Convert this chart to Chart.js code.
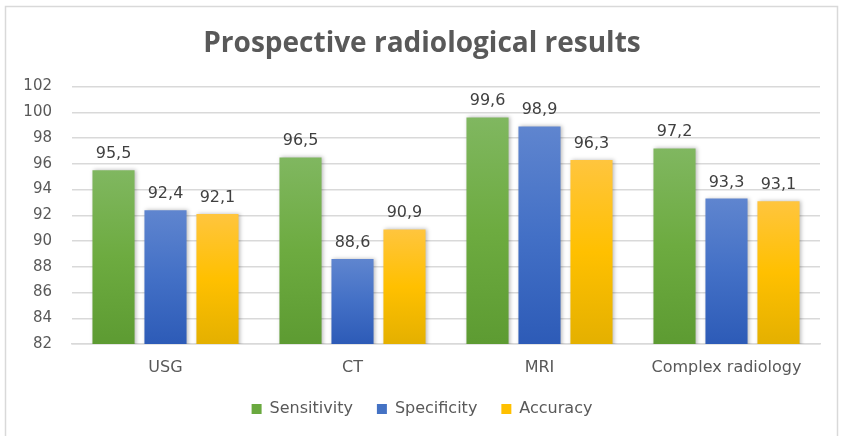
<!DOCTYPE html>
<html>
<head>
<meta charset="utf-8">
<script src="https://cdn.jsdelivr.net/npm/chart.js@4"></script>
<style>
html,body{margin:0;padding:0;background:#fff;}
#wrap{width:844px;height:436px;position:relative;}
</style>
</head>
<body>
<div id="wrap"><canvas id="c" width="844" height="436"></canvas></div>
<script>
const categories = ['USG', 'CT', 'MRI', 'Complex radiology'];
const sensitivity = [95.5, 96.5, 99.6, 97.2];
const specificity = [92.4, 88.6, 98.9, 93.3];
const accuracy = [92.1, 90.9, 96.3, 93.1];
const yTicks = [82, 84, 86, 88, 90, 92, 94, 96, 98, 100, 102];

const palettes = {
  green: ['#80b760', '#6dab40', '#5d9b32'],
  blue: ['#5f85cf', '#4370c6', '#2d5bb7'],
  yellow: ['#ffc53e', '#ffc000', '#e4b000']
};

function grad(p) {
  return function(ctx) {
    const chart = ctx.chart;
    if (!chart.chartArea || ctx.parsed === undefined || ctx.parsed === null) return p[1];
    const ys = chart.scales.y;
    const top = ys.getPixelForValue(ctx.parsed.y);
    const bot = ys.getPixelForValue(ys.min);
    if (!isFinite(top) || !isFinite(bot) || bot - top < 1) return p[1];
    const g = chart.ctx.createLinearGradient(0, top, 0, bot);
    g.addColorStop(0, p[0]);
    g.addColorStop(0.5, p[1]);
    g.addColorStop(1, p[2]);
    return g;
  };
}

const frame = {
  id: 'frame',
  beforeInit(chart) {
    const lg = chart.legend;
    if (lg) {
      const origFit = lg.fit;
      lg.fit = function() { origFit.call(this); this.height = 59; };
    }
  },
  beforeDraw(chart) {
    const c = chart.ctx;
    c.save();
    c.fillStyle = '#ffffff';
    c.fillRect(0, 0, chart.width, chart.height);
    c.strokeStyle = '#d9d9d9';
    c.lineWidth = 1.5;
    c.strokeRect(5.5, 6.5, 832, 440);
    c.restore();
  }
};

const shadow = {
  id: 'shadow',
  beforeDatasetDraw(chart) {
    const c = chart.ctx;
    c.save();
    c.shadowColor = 'rgba(0,0,0,0.28)';
    c.shadowBlur = 4;
    c.shadowOffsetX = 1.5;
    c.shadowOffsetY = 0;
  },
  afterDatasetDraw(chart) {
    chart.ctx.restore();
  }
};

const valueLabels = {
  id: 'valueLabels',
  afterDatasetsDraw(chart) {
    const c = chart.ctx;
    c.save();
    c.font = '16px "DejaVu Sans"';
    c.fillStyle = '#404040';
    c.textAlign = 'center';
    c.textBaseline = 'alphabetic';
    chart.data.datasets.forEach((ds, i) => {
      const meta = chart.getDatasetMeta(i);
      meta.data.forEach((bar, j) => {
        const v = ds.data[j];
        c.fillText(String(v).replace('.', ','), bar.x, bar.y - 12);
      });
    });
    c.restore();
  }
};

new Chart(document.getElementById('c'), {
  type: 'bar',
  data: {
    labels: categories,
    datasets: [
      { label: 'Sensitivity', data: sensitivity, backgroundColor: grad(palettes.green), legendColor: '#6aa93f' },
      { label: 'Specificity', data: specificity, backgroundColor: grad(palettes.blue), legendColor: '#4472c4' },
      { label: 'Accuracy', data: accuracy, backgroundColor: grad(palettes.yellow), legendColor: '#ffc000' }
    ]
  },
  options: {
    responsive: false,
    animation: false,
    devicePixelRatio: 1,
    layout: { padding: { left: 24, right: 24, top: 0, bottom: 0 } },
    datasets: { bar: { barPercentage: 0.81, categoryPercentage: 0.834 } },
    plugins: {
      title: {
        display: true,
        text: 'Prospective radiological results',
        color: '#595959',
        font: { family: '"Open Sans"', size: 28, weight: 'bold', lineHeight: 1.2 },
        padding: { top: 27, bottom: 26 }
      },
      legend: {
        position: 'bottom',
        labels: {
          color: '#595959',
          font: { family: '"DejaVu Sans"', size: 16 },
          boxWidth: 10,
          boxHeight: 10,
          padding: 24,
          generateLabels(chart) {
            return chart.data.datasets.map((ds, i) => ({
              text: ds.label,
              fillStyle: ds.legendColor,
              strokeStyle: ds.legendColor,
              lineWidth: 0,
              fontColor: '#595959',
              datasetIndex: i,
              hidden: false
            }));
          }
        }
      },
      tooltip: { enabled: false }
    },
    scales: {
      x: {
        afterFit(scale) { scale.height = 33; },
        grid: { display: false },
        border: { display: true, color: '#d9d9d9', width: 1.5 },
        ticks: { color: '#595959', font: { family: '"DejaVu Sans"', size: 16 }, padding: 6 }
      },
      y: {
        min: 82,
        max: 102,
        afterFit(scale) { scale.width = 48; },
        afterBuildTicks(scale) { scale.ticks = yTicks.map(v => ({ value: v })); },
        grid: { color: '#d9d9d9', lineWidth: 1.5, drawTicks: false },
        border: { display: false },
        ticks: { color: '#595959', font: { family: '"DejaVu Sans"', size: 15 }, padding: 20 }
      }
    }
  },
  plugins: [frame, shadow, valueLabels]
});
</script>
</body>
</html>
